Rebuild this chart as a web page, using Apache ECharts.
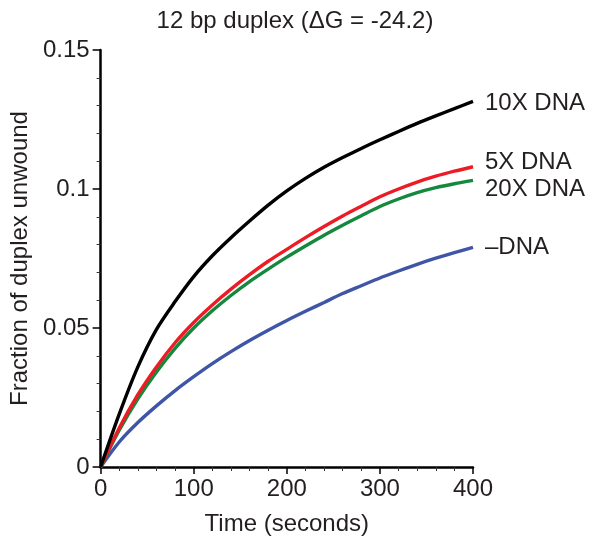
<!DOCTYPE html>
<html>
<head>
<meta charset="utf-8">
<script src="https://cdn.jsdelivr.net/npm/echarts@6/dist/echarts.min.js"></script>
<style>
html,body{margin:0;padding:0;background:#fff;}
#chart{width:595px;height:544px;}
</style>
</head>
<body>
<div id="chart"></div>
<script>
var titleText = '12 bp duplex (\u0394G = -24.2)';
var xName = 'Time (seconds)';
var yName = 'Fraction of duplex unwound';
var xTickLabels = ['0', '100', '200', '300', '400'];
var yTickLabels = ['0', '0.05', '0.1', '0.15'];

var times = [0, 20, 40, 60, 80, 100, 120, 140, 160, 180, 200, 220, 240, 260, 280, 300, 320, 340, 360, 380, 400];

var seriesNames = ['\u2013DNA', '20X DNA', '5X DNA', '10X DNA'];
var noDNA  = [0, 0.0090, 0.0160, 0.0220, 0.0275, 0.0325, 0.0372, 0.0415, 0.0455, 0.0492, 0.0527, 0.0560, 0.0592, 0.0624, 0.0652, 0.0680, 0.0705, 0.0729, 0.0751, 0.0771, 0.0790];
var dna20X = [0, 0.0132, 0.0245, 0.0342, 0.0427, 0.0500, 0.0562, 0.0617, 0.0667, 0.0712, 0.0755, 0.0795, 0.0834, 0.0870, 0.0904, 0.0937, 0.0964, 0.0987, 0.1005, 0.1019, 0.1031];
var dna5X  = [0, 0.0140, 0.0260, 0.0360, 0.0447, 0.0520, 0.0583, 0.0640, 0.0692, 0.0740, 0.0783, 0.0825, 0.0865, 0.0903, 0.0938, 0.0972, 0.1000, 0.1025, 0.1046, 0.1064, 0.1080];
var dna10X = [0, 0.0190, 0.0360, 0.0495, 0.0595, 0.0685, 0.0760, 0.0825, 0.0885, 0.0942, 0.0993, 0.1038, 0.1078, 0.1113, 0.1146, 0.1177, 0.1207, 0.1236, 0.1263, 0.1289, 0.1315];

var seriesValues = [noDNA, dna20X, dna5X, dna10X];
var seriesColors = ['#3f56a6', '#14883c', '#ec1c24', '#000000'];
var labelOffsets = [[0, 0], [0, 9], [0, -4], [0, 2]];

var FONT = '"Liberation Sans", Arial, Helvetica, sans-serif';
var TXT = '#231f20';
var FS = 24;

function pairs(vals) {
  return times.map(function (t, i) { return [t, vals[i]]; });
}

var series = seriesNames.map(function (name, i) {
  return {
    name: name,
    type: 'line',
    data: pairs(seriesValues[i]),
    showSymbol: false,
    symbol: 'none',
    smooth: 0.3,
    lineStyle: { color: seriesColors[i], width: 3.4 },
    itemStyle: { color: seriesColors[i] },
    z: 2 + i,
    animation: false,
    endLabel: {
      show: true,
      formatter: name,
      distance: 12,
      offset: labelOffsets[i],
      color: TXT,
      fontSize: FS,
      fontFamily: FONT
    }
  };
});

var chart = echarts.init(document.getElementById('chart'), null, { renderer: 'canvas' });
chart.setOption({
  backgroundColor: '#ffffff',
  animation: false,
  title: {
    text: titleText,
    left: 290,
    textAlign: 'center',
    top: 4,
    textStyle: { color: TXT, fontSize: FS, fontWeight: 'normal', fontFamily: FONT }
  },
  grid: { left: 95, right: 122, top: 50, bottom: 77, containLabel: false },
  xAxis: {
    type: 'value',
    min: 0, max: 400, interval: 100,
    name: xName,
    nameLocation: 'middle',
    nameGap: 45,
    nameTextStyle: { color: TXT, fontSize: FS, fontFamily: FONT },
    axisLine: { show: true, lineStyle: { color: '#000', width: 2.5 } },
    axisTick: { show: true, inside: false, length: 7, lineStyle: { color: '#000', width: 1.5 } },
    minorTick: { show: true, splitNumber: 5, length: 4, lineStyle: { color: '#333', width: 1 } },
    axisLabel: {
      color: TXT, fontSize: FS, fontFamily: FONT, margin: 10,
      formatter: function (v) { return xTickLabels[Math.round(v / 100)]; }
    },
    splitLine: { show: false }
  },
  yAxis: {
    type: 'value',
    min: 0, max: 0.15, interval: 0.05,
    name: yName,
    nameLocation: 'middle',
    nameGap: 68,
    nameTextStyle: { color: TXT, fontSize: FS, fontFamily: FONT },
    axisLine: { show: true, lineStyle: { color: '#000', width: 2.5 } },
    axisTick: { show: true, inside: false, length: 8, lineStyle: { color: '#000', width: 1.5 } },
    minorTick: { show: true, splitNumber: 5, length: 4, lineStyle: { color: '#333', width: 1 } },
    axisLabel: {
      color: TXT, fontSize: FS, fontFamily: FONT, margin: 11,
      formatter: function (v) { return yTickLabels[Math.round(v / 0.05)]; }
    },
    splitLine: { show: false }
  },
  series: series
});
</script>
</body>
</html>
